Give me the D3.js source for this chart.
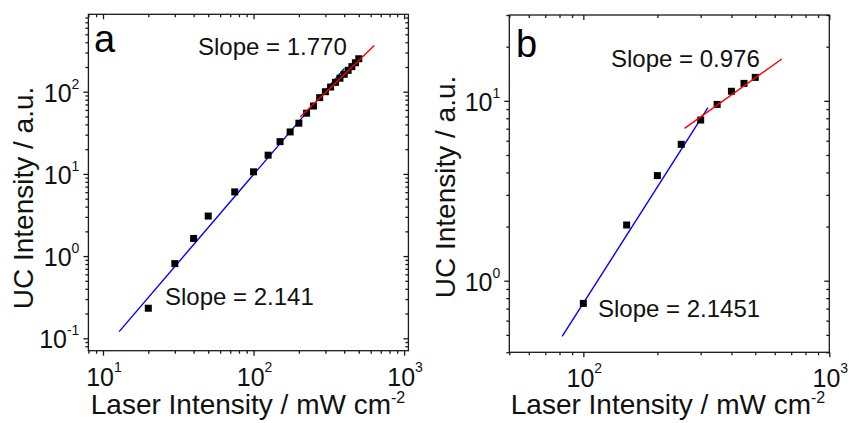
<!DOCTYPE html>
<html><head><meta charset="utf-8">
<script src="https://cdn.jsdelivr.net/npm/d3@7"></script>
<style>
body{margin:0;background:#fff;}
svg{display:block;font-family:"Liberation Sans",Arial,sans-serif;}
</style></head>
<body><svg id="c" width="849" height="423"></svg>
<script>
// Panel a data
const aPower = [20,30,40,50,75,100,125,150,175,200,225,250,275,300,325,350,375,400,425,450,475,500];
const aUC = [0.232,0.81,1.64,3.07,6.04,10.6,16.9,24.7,32.4,41.4,54.8,67,84.7,100,114,130,146,163,182,202,225,252];
// Panel b data
const bPower = [100,150,200,250,300,350,400,450,500];
const bUC = [0.748,2.04,3.84,5.73,7.82,9.55,11.3,12.5,13.5];
// Fits: [slope, intercept(log10), xStart, xEnd]
const aFitLow = [2.141,-3.29,12.8,400];
const aFitHigh = [1.770,-2.397,204,634];
const bFitLow = [2.1451,-4.415,82,321];
const bFitHigh = [0.976,-1.507,258,641];
// Axis tick labels (exponents)
const aXExp = [1,2,3];
const aYExp = [-1,0,1,2];
const bXExp = [2,3];
const bYExp = [0,1];
const aSlopeLabels = ["Slope = 1.770","Slope = 2.141"];
const bSlopeLabels = ["Slope = 0.976","Slope = 2.1451"];

const svg = d3.select("#c");

function minorTicks(dom){
  const out=[];
  const lo=Math.floor(Math.log10(dom[0])), hi=Math.ceil(Math.log10(dom[1]));
  for(let e=lo;e<=hi;e++) for(let m=2;m<=9;m++){const v=m*Math.pow(10,e); if(v>=dom[0]*0.999&&v<=dom[1]*1.001) out.push(v);}
  return out;
}

function panel(o){
  const g = svg.append("g").attr("transform",`translate(${o.left},${o.top})`);
  const x = d3.scaleLog().domain(o.xd).range([0,o.w]);
  const y = d3.scaleLog().domain(o.yd).range([o.h,0]);
  const xMaj = o.xExp.map(e=>Math.pow(10,e)), yMaj = o.yExp.map(e=>Math.pow(10,e));
  const xMin = minorTicks(o.xd), yMin = minorTicks(o.yd);
  const axStyle = sel=>{sel.select(".domain").remove(); sel.selectAll("line").attr("stroke","#1a1a1a").attr("stroke-width",1.3);};
  // bottom (outward)
  g.append("g").attr("transform",`translate(0,${o.h})`).call(d3.axisBottom(x).tickValues(xMaj).tickSize(5).tickFormat("")).call(axStyle);
  g.append("g").attr("transform",`translate(0,${o.h})`).call(d3.axisBottom(x).tickValues(xMin).tickSize(3).tickFormat("")).call(axStyle);
  // top (inward)
  g.append("g").call(d3.axisTop(x).tickValues(xMaj).tickSize(-5).tickFormat("")).call(axStyle);
  g.append("g").call(d3.axisTop(x).tickValues(xMin).tickSize(-3).tickFormat("")).call(axStyle);
  // left (outward)
  g.append("g").call(d3.axisLeft(y).tickValues(yMaj).tickSize(5).tickFormat("")).call(axStyle);
  g.append("g").call(d3.axisLeft(y).tickValues(yMin).tickSize(3).tickFormat("")).call(axStyle);
  // right (inward)
  g.append("g").attr("transform",`translate(${o.w},0)`).call(d3.axisRight(y).tickValues(yMaj).tickSize(-5).tickFormat("")).call(axStyle);
  g.append("g").attr("transform",`translate(${o.w},0)`).call(d3.axisRight(y).tickValues(yMin).tickSize(-3).tickFormat("")).call(axStyle);
  // frame
  g.append("rect").attr("width",o.w).attr("height",o.h).attr("fill","none").attr("stroke","#1a1a1a").attr("stroke-width",1.3);
  // tick labels
  o.xExp.forEach(e=>{
    const t=g.append("text").attr("x",x(Math.pow(10,e))+1).attr("y",386.5-o.top).attr("text-anchor","middle").attr("font-size",25).attr("fill","#111");
    t.append("tspan").text("10");
    t.append("tspan").attr("font-size",14).attr("dy",-14).text(e);
  });
  o.yExp.forEach(e=>{
    const t=g.append("text").attr("x",-9).attr("y",y(Math.pow(10,e))+10).attr("text-anchor","end").attr("font-size",25).attr("fill","#111");
    t.append("tspan").text("10");
    t.append("tspan").attr("font-size",14).attr("dy",-13).text(e);
  });
  // fit lines
  const line = d3.line().x(d=>x(d[0])).y(d=>y(d[1]));
  const fitPts = f=>[f[2],f[3]].map(v=>[v,Math.pow(10,f[0]*Math.log10(v)+f[1])]);
  g.append("path").attr("d",line(fitPts(o.fitLow))).attr("stroke","#0000ff").attr("stroke-width",1.4).attr("fill","none");
  // points
  const s=7;
  g.selectAll("rect.pt").data(o.px.map((v,i)=>[v,o.py[i]])).enter().append("rect")
    .attr("x",d=>x(d[0])-s/2).attr("y",d=>y(d[1])-s/2).attr("width",s).attr("height",s).attr("fill","#000");
  g.append("path").attr("d",line(fitPts(o.fitHigh))).attr("stroke","#ff0000").attr("stroke-width",1.4).attr("fill","none");
  // titles
  const xt = svg.append("text").attr("x",o.xtX).attr("y",413.5).attr("text-anchor","middle").attr("font-size",28).attr("fill","#111");
  xt.append("tspan").text("Laser Intensity / mW cm");
  xt.append("tspan").attr("font-size",16).attr("dy",-11).text("-2");
  svg.append("text").attr("transform",`translate(${o.ytX},${o.ytY}) rotate(-90)`).attr("text-anchor","middle").attr("font-size",28).attr("fill","#111").text("UC Intensity / a.u.");
  // panel letter
  svg.append("text").attr("x",o.letter[1]).attr("y",o.letter[2]).attr("font-size",38).attr("fill","#000").text(o.letter[0]);
  // slope labels
  o.slopes.forEach((s,i)=>svg.append("text").attr("x",o.slopePos[i][0]).attr("y",o.slopePos[i][1]).attr("font-size",24).attr("fill","#111").text(s));
}

panel({left:88.4,top:14.3,w:320,h:336.4,xd:[8,1068],yd:[0.0706,875],xExp:aXExp,yExp:aYExp,
  px:aPower,py:aUC,fitLow:aFitLow,fitHigh:aFitHigh,xtX:248,ytX:33,ytY:198,letter:["a",94,51.5],
  slopes:aSlopeLabels,slopePos:[[198,55],[165,305]]});
panel({left:509.3,top:15,w:320,h:337.3,xd:[50,1000],yd:[0.4,30],xExp:bXExp,yExp:bYExp,
  px:bPower,py:bUC,fitLow:bFitLow,fitHigh:bFitHigh,xtX:668,ytX:455,ytY:187,letter:["b",516,56.5],
  slopes:bSlopeLabels,slopePos:[[611,66.5],[598,316.5]]});
</script></body></html>
